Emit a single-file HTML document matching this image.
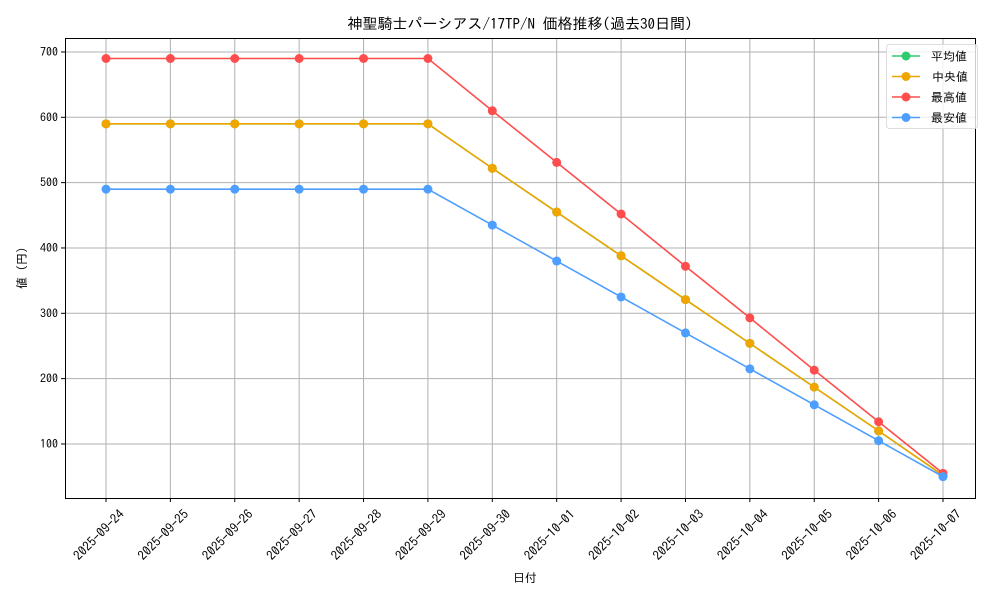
<!DOCTYPE html>
<html><head><meta charset="utf-8"><style>
body{margin:0;background:#fff;}
svg text{font-family:"IPAGothic","Liberation Sans","Noto Sans CJK JP",sans-serif;fill:#000;}
</style></head><body>
<svg id="chart" width="1000" height="600" xmlns="http://www.w3.org/2000/svg">
<rect width="1000" height="600" fill="#fff"/>
<g id="grid"></g>
<g id="series"></g>
<rect x="65.5" y="38.5" width="910" height="460" fill="none" stroke="#000" stroke-width="1"/>
<g id="axes"></g>
<text x="520" y="29" font-size="15" text-anchor="middle">神聖騎士パーシアス/17TP/N 価格推移(過去30日間)</text>
<text x="525" y="582" font-size="12" text-anchor="middle">日付</text>
<text x="26" y="268" font-size="12" text-anchor="middle" transform="rotate(-90 26 268)">値 (円)</text>
<g id="legend"></g>
</svg>
<script>
const categories=["2025-09-24","2025-09-25","2025-09-26","2025-09-27","2025-09-28","2025-09-29","2025-09-30","2025-10-01","2025-10-02","2025-10-03","2025-10-04","2025-10-05","2025-10-06","2025-10-07"];
const meanValues=[590,590,590,590,590,590,522,455,388,321,254,187,120,52];
const medianValues=[590,590,590,590,590,590,522,455,388,321,254,187,120,52];
const maxValues=[690,690,690,690,690,690,610,531,452,372,293,213,134,55];
const minValues=[490,490,490,490,490,490,435,380,325,270,215,160,105,50];
const yTicks=[100,200,300,400,500,600,700];
const seriesNames=["平均値","中央値","最高値","最安値"];
const NS="http://www.w3.org/2000/svg";
const X0=106,DX=(943-106)/13;
const xs=i=>X0+i*DX;
const ys=v=>509.3-v*0.65333;
function mk(t,a,p){const e=document.createElementNS(NS,t);for(const k in a)e.setAttribute(k,a[k]);p.appendChild(e);return e;}
const grid=document.getElementById('grid'),axes=document.getElementById('axes'),ser=document.getElementById('series'),leg=document.getElementById('legend');
categories.forEach((c,i)=>{
 const x=xs(i);
 const l=mk('line',{x1:x,x2:x,y1:38,y2:498,stroke:'#b0b0b0','stroke-width':1},grid);
 
 const tk=mk('line',{x1:x,x2:x,y1:498,y2:502,stroke:'#000'},axes);
 
 const tx=x+19,ty=515;
 const t=mk('text',{x:tx,y:ty,'font-size':13,'text-anchor':'end',transform:`rotate(-45 ${tx} ${ty})`},axes);
 t.textContent=c;
 
});
yTicks.forEach(v=>{
 const y=ys(v);
 const l=mk('line',{x1:65,x2:975,y1:y,y2:y,stroke:'#b0b0b0','stroke-width':1},grid);
 
 const tk=mk('line',{x1:61,x2:65,y1:y,y2:y,stroke:'#000'},axes);
 
 const t=mk('text',{x:58,y:y+4,'font-size':12,'text-anchor':'end'},axes);
 t.textContent=v;
 
});
const allSeries=[[meanValues,'#2ecc71'],[medianValues,'#f0a500'],[maxValues,'#ff4d4d'],[minValues,'#4d9eff']];
allSeries.forEach(([vals,col],k)=>{
 const g=mk('g',{},ser);
 
 const pl=mk('polyline',{points:vals.map((v,i)=>xs(i)+','+ys(v)).join(' '),fill:'none',stroke:col,'stroke-width':1.6},g);
 
 vals.forEach((v,i)=>{
  const c=mk('circle',{cx:xs(i),cy:ys(v),r:4.5,fill:col},g);
  
 });
});
const lb=mk('rect',{x:886.5,y:44.5,width:91,height:84,rx:3,fill:'#fff','fill-opacity':0.8,stroke:'#ddd'},leg);

seriesNames.forEach((n,k)=>{
 const y=56+k*20.5;
 const g=mk('g',{},leg);
 
 mk('line',{x1:892,x2:920,y1:y,y2:y,stroke:allSeries[k][1],'stroke-width':1.6},g);
 mk('circle',{cx:906,cy:y,r:4.5,fill:allSeries[k][1]},g);
 const t=mk('text',{x:931+(k==1?1:0),y:y+4.5,'font-size':12},g);
 t.textContent=n;
});
</script>
</body></html>
